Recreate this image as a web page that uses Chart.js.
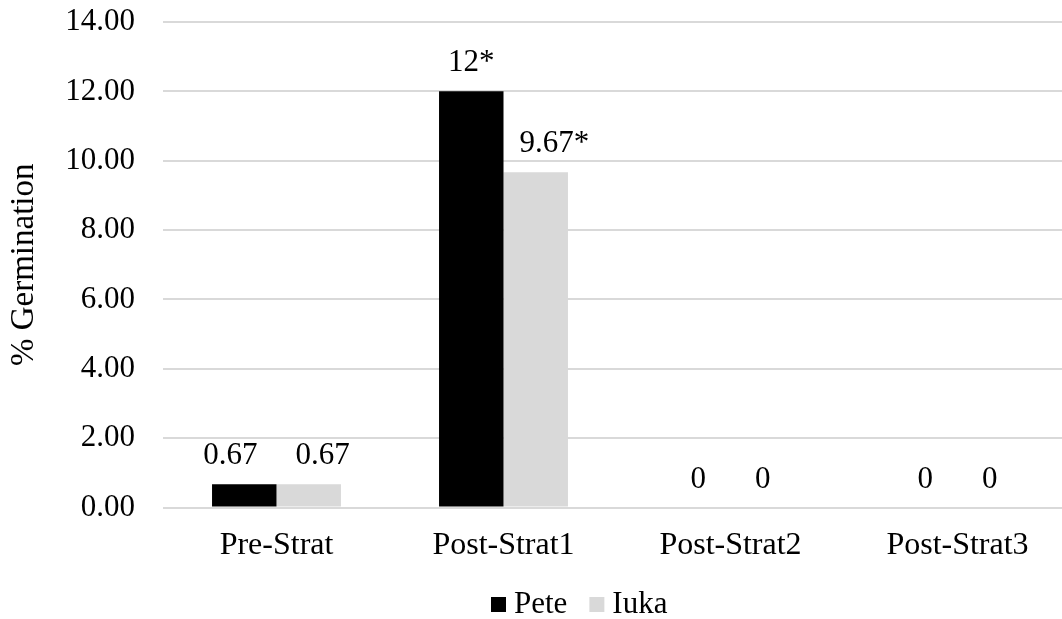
<!DOCTYPE html>
<html>
<head>
<meta charset="utf-8">
<script src="https://cdn.jsdelivr.net/npm/chart.js@4"></script>
<style>
  html, body { margin: 0; padding: 0; background: #fff; overflow: hidden; }
  #wrap { width: 1071px; height: 619px; }
</style>
</head>
<body>
<div id="wrap"><canvas id="c" width="1071" height="619"></canvas></div>
<script>
// Germination after stratification, two cultivars
const categories = ["Pre-Strat", "Post-Strat1", "Post-Strat2", "Post-Strat3"];
const peteValues = [0.67, 12, 0, 0];
const iukaValues = [0.67, 9.67, 0, 0];
const peteLabels = ["0.67", "12*", "0", "0"];
const iukaLabels = ["0.67", "9.67*", "0", "0"];
const yTicks = [0, 2, 4, 6, 8, 10, 12, 14];

const FONT = "'Liberation Serif', 'Times New Roman', serif";
const SIZE = 31;

// value text above each bar, nudged sideways when it would run into a bar or its neighbour
const barLabels = {
  id: "barLabels",
  afterDatasetsDraw(chart) {
    const ctx = chart.ctx;
    ctx.save();
    ctx.font = SIZE + "px " + FONT;
    ctx.fillStyle = "#000";
    ctx.textAlign = "center";
    ctx.textBaseline = "alphabetic";
    const items = [];
    const bars = [];
    chart.data.datasets.forEach((ds, i) => {
      chart.getDatasetMeta(i).data.forEach((bar, j) => {
        bars.push(bar);
        const text = ds.valueText[j];
        items.push({ text, x: bar.x, y: bar.y - 20, w: ctx.measureText(text).width, cat: j, bar });
      });
    });
    const clear = 16;
    items.forEach(it => {
      bars.forEach(b => {
        if (b === it.bar) return;
        const half = b.width / 2;
        if (b.y < it.y &&
            it.x - it.w / 2 < b.x + half + clear &&
            it.x + it.w / 2 > b.x - half - clear) {
          it.x = b.x < it.x ? b.x + half + clear + it.w / 2 : b.x - half - clear - it.w / 2;
        }
      });
    });
    const minGap = 38;
    for (let a = 0; a < items.length; a++) {
      for (let b = 0; b < items.length; b++) {
        const A = items[a], B = items[b];
        if (A === B || A.cat !== B.cat || A.x >= B.x || Math.abs(A.y - B.y) > SIZE) continue;
        const gap = (B.x - B.w / 2) - (A.x + A.w / 2);
        if (gap < minGap) {
          const s = (minGap - gap) / 2;
          A.x -= s; B.x += s;
        }
      }
    }
    items.forEach(it => ctx.fillText(it.text, it.x, it.y));
    ctx.restore();
  }
};

// legend row: square swatch, label, next item
const legendRow = {
  id: "legendRow",
  afterDraw(chart, args, opts) {
    const ctx = chart.ctx;
    ctx.save();
    ctx.font = SIZE + "px " + FONT;
    ctx.textAlign = "left";
    ctx.textBaseline = "alphabetic";
    let x = opts.x;
    chart.data.datasets.forEach(ds => {
      ctx.fillStyle = ds.backgroundColor;
      ctx.fillRect(x, opts.y - 8, 15, 15);
      x += 15 + 8;
      ctx.fillStyle = "#000";
      ctx.fillText(ds.label, x, opts.y + 8);
      x += ctx.measureText(ds.label).width + 22;
    });
    ctx.restore();
  }
};

new Chart(document.getElementById("c"), {
  type: "bar",
  data: {
    labels: categories,
    datasets: [
      { label: "Pete", data: peteValues, valueText: peteLabels, backgroundColor: "#000000",
        categoryPercentage: 0.568, barPercentage: 1.0 },
      { label: "Iuka", data: iukaValues, valueText: iukaLabels, backgroundColor: "#d9d9d9",
        categoryPercentage: 0.568, barPercentage: 1.0 }
    ]
  },
  options: {
    responsive: false,
    animation: false,
    layout: { padding: { top: 22, left: 0, right: 0, bottom: 43 } },
    plugins: {
      tooltip: { enabled: false },
      legend: { display: false },
      legendRow: { x: 491, y: 605 }
    },
    scales: {
      x: {
        grid: { display: false },
        border: { display: false },
        ticks: { font: { family: FONT, size: 32 }, color: "#000", padding: 11 }
      },
      y: {
        min: 0,
        max: 14,
        afterBuildTicks(scale) { scale.ticks = yTicks.map(v => ({ value: v })); },
        afterFit(scale) {
          scale.width = 163;
          scale.paddingTop = 0;
          scale.paddingBottom = 0;
        },
        grid: { color: "#d9d9d9", lineWidth: 2, drawTicks: false },
        border: { display: false },
        ticks: {
          font: { family: FONT, size: SIZE },
          color: "#000",
          padding: 28,
          callback: v => Number(v).toFixed(2)
        },
        title: {
          display: true,
          text: "% Germination",
          font: { family: FONT, size: 33 },
          color: "#000",
          padding: { top: 5, bottom: 0 }
        }
      }
    }
  },
  plugins: [barLabels, legendRow]
});
</script>
</body>
</html>
